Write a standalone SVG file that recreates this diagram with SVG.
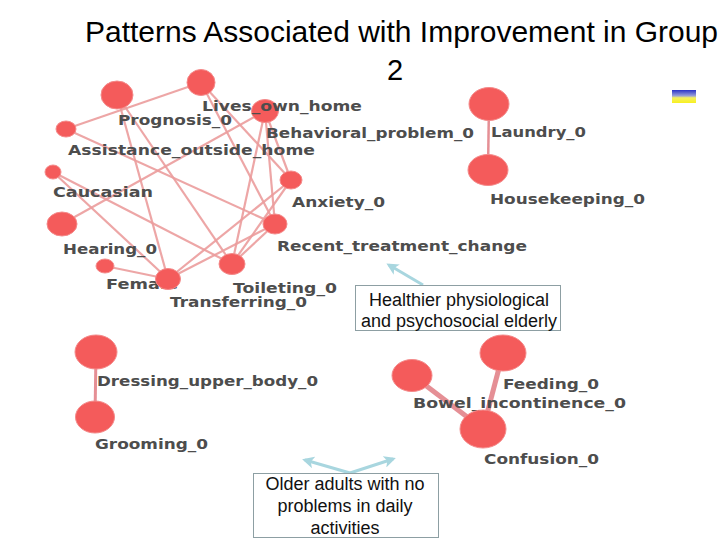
<svg xmlns="http://www.w3.org/2000/svg" width="720" height="540" viewBox="0 0 720 540">
<defs>
<style>
.title{font-family:"Liberation Sans",Arial,sans-serif;font-size:29px;fill:#000}
.lbl{font-family:"DejaVu Sans",Verdana,sans-serif;font-weight:bold;font-size:14px;fill:#4d4d4d}
.nd{fill:#f45b5b;stroke:#f48a8a;stroke-width:1}
.e{stroke:#eb9c9c;stroke-width:2.2;stroke-opacity:0.9;fill:none}
.eb{stroke:#e58f95;fill:none}
.note{fill:#fff;stroke:#8d9fa3;stroke-width:1}
.nt{font-family:"Liberation Sans",Arial,sans-serif;font-size:18px;fill:#111;text-anchor:middle}
.ar{stroke:#a8d6df;stroke-width:3;fill:none}
</style>
<linearGradient id="flag" x1="0" y1="0" x2="0" y2="1">
<stop offset="0" stop-color="#2a32c8"/>
<stop offset="0.45" stop-color="#9aa0d8"/>
<stop offset="0.6" stop-color="#f4f060"/>
<stop offset="1" stop-color="#f8f020"/>
</linearGradient>
<marker id="ah" markerWidth="12" markerHeight="12" refX="9" refY="6" orient="auto" markerUnits="userSpaceOnUse" viewBox="0 0 12 12">
<path d="M0,0 L12,6 L0,12 L3,6 Z" fill="#a8d6df"/>
</marker>
</defs>
<rect width="720" height="540" fill="#fff"/>
<g id="title">
<text class="title" x="85" y="42" textLength="633" lengthAdjust="spacingAndGlyphs">Patterns Associated with Improvement in Group</text>
<text class="title" x="395" y="80" text-anchor="middle">2</text>
</g>
<rect id="legend-swatch" x="672" y="90" width="24" height="13" fill="url(#flag)"/>
<g id="connectors">
<line class="e" x1="201" y1="82.5" x2="66" y2="129"/>
<line class="e" x1="201" y1="82.5" x2="291" y2="180"/>
<line class="e" x1="201" y1="82.5" x2="275" y2="224"/>
<line class="e" x1="117" y1="95" x2="168" y2="279"/>
<line class="e" x1="117" y1="95" x2="232" y2="264"/>
<line class="e" x1="66" y1="129" x2="275" y2="224"/>
<line class="e" x1="53" y1="172" x2="168" y2="279"/>
<line class="e" x1="53" y1="172" x2="232" y2="264"/>
<line class="e" x1="62" y1="224" x2="265" y2="111"/>
<line class="e" x1="105" y1="266" x2="168" y2="279"/>
<line class="e" x1="168" y1="279" x2="291" y2="180"/>
<line class="e" x1="168" y1="279" x2="275" y2="224"/>
<line class="e" x1="232" y1="264" x2="265" y2="111"/>
<line class="e" x1="232" y1="264" x2="291" y2="180"/>
<line class="e" x1="232" y1="264" x2="275" y2="224"/>
<line class="e" x1="265" y1="111" x2="291" y2="180"/>
<line class="e" x1="265" y1="111" x2="275" y2="224"/>
<line class="eb" stroke-width="2.5" x1="489" y1="104" x2="488" y2="170"/>
<line class="eb" stroke-width="3" x1="96" y1="352" x2="95" y2="417"/>
<line class="eb" stroke-width="5" x1="412" y1="375" x2="483" y2="429"/>
<line class="eb" stroke-width="5" x1="503" y1="353" x2="483" y2="429"/>
</g>
<g id="node-prognosis"><ellipse class="nd" cx="117" cy="95" rx="16" ry="14"/><text class="lbl" x="118" y="125" textLength="114" lengthAdjust="spacingAndGlyphs">Prognosis_0</text></g>
<g id="node-assistance"><ellipse class="nd" cx="66" cy="129" rx="10" ry="8"/><text class="lbl" x="68" y="155" textLength="247" lengthAdjust="spacingAndGlyphs">Assistance_outside_home</text></g>
<g id="node-caucasian"><ellipse class="nd" cx="53" cy="172" rx="8" ry="7"/><text class="lbl" x="53" y="197" textLength="100" lengthAdjust="spacingAndGlyphs">Caucasian</text></g>
<g id="node-hearing"><ellipse class="nd" cx="62" cy="224" rx="15" ry="12"/><text class="lbl" x="63" y="254" textLength="94" lengthAdjust="spacingAndGlyphs">Hearing_0</text></g>
<g id="node-female"><ellipse class="nd" cx="105" cy="266" rx="9" ry="7"/><text class="lbl" x="106" y="289" textLength="72" lengthAdjust="spacingAndGlyphs">Female</text></g>
<g id="node-behavioral"><ellipse class="nd" cx="265" cy="111" rx="13.5" ry="11.5"/><text class="lbl" x="266" y="138" textLength="208" lengthAdjust="spacingAndGlyphs">Behavioral_problem_0</text></g>
<g id="node-lives"><ellipse class="nd" cx="201" cy="82.5" rx="14" ry="13"/><text class="lbl" x="202" y="111" textLength="160" lengthAdjust="spacingAndGlyphs">Lives_own_home</text></g>
<g id="node-anxiety"><ellipse class="nd" cx="291" cy="180" rx="11" ry="9"/><text class="lbl" x="292" y="207" textLength="93" lengthAdjust="spacingAndGlyphs">Anxiety_0</text></g>
<g id="node-recent"><ellipse class="nd" cx="275" cy="224" rx="12" ry="10"/><text class="lbl" x="277" y="251" textLength="250" lengthAdjust="spacingAndGlyphs">Recent_treatment_change</text></g>
<g id="node-toileting"><ellipse class="nd" cx="232" cy="264" rx="13" ry="10.5"/><text class="lbl" x="233" y="293" textLength="104" lengthAdjust="spacingAndGlyphs">Toileting_0</text></g>
<g id="node-transferring"><ellipse class="nd" cx="168" cy="279" rx="12.5" ry="10.5"/><text class="lbl" x="170" y="307" textLength="137" lengthAdjust="spacingAndGlyphs">Transferring_0</text></g>
<g id="node-laundry"><ellipse class="nd" cx="489" cy="104" rx="20" ry="16.5"/><text class="lbl" x="491" y="137" textLength="95" lengthAdjust="spacingAndGlyphs">Laundry_0</text></g>
<g id="node-housekeeping"><ellipse class="nd" cx="488" cy="170" rx="20" ry="15.5"/><text class="lbl" x="490" y="204" textLength="155" lengthAdjust="spacingAndGlyphs">Housekeeping_0</text></g>
<g id="node-dressing"><ellipse class="nd" cx="96" cy="352" rx="21" ry="17"/><text class="lbl" x="97" y="386" textLength="221" lengthAdjust="spacingAndGlyphs">Dressing_upper_body_0</text></g>
<g id="node-grooming"><ellipse class="nd" cx="95" cy="417" rx="19.5" ry="16"/><text class="lbl" x="95" y="449" textLength="113" lengthAdjust="spacingAndGlyphs">Grooming_0</text></g>
<g id="node-feeding"><ellipse class="nd" cx="503" cy="353" rx="23" ry="18"/><text class="lbl" x="503" y="389" textLength="96" lengthAdjust="spacingAndGlyphs">Feeding_0</text></g>
<g id="node-bowel"><ellipse class="nd" cx="412" cy="375.5" rx="20" ry="16"/><text class="lbl" x="413" y="408" textLength="213" lengthAdjust="spacingAndGlyphs">Bowel_incontinence_0</text></g>
<g id="node-confusion"><ellipse class="nd" cx="483" cy="429" rx="23" ry="19"/><text class="lbl" x="484" y="464" textLength="115" lengthAdjust="spacingAndGlyphs">Confusion_0</text></g>
<g id="note-healthier">
<line class="ar" x1="423" y1="285" x2="389" y2="265" marker-end="url(#ah)"/>
<rect class="note" x="355.5" y="285.5" width="205" height="45"/>
<text class="nt" x="459" y="306">Healthier physiological</text>
<text class="nt" x="459" y="327">and psychosocial elderly</text>
</g>
<g id="note-older">
<line class="ar" x1="350" y1="473" x2="305" y2="460" marker-end="url(#ah)"/>
<line class="ar" x1="350" y1="473" x2="393" y2="459" marker-end="url(#ah)"/>
<rect class="note" x="253.5" y="473.5" width="185" height="64"/>
<text class="nt" x="345" y="490">Older adults with no</text>
<text class="nt" x="345" y="512">problems in daily</text>
<text class="nt" x="345" y="534">activities</text>
</g>
</svg>
